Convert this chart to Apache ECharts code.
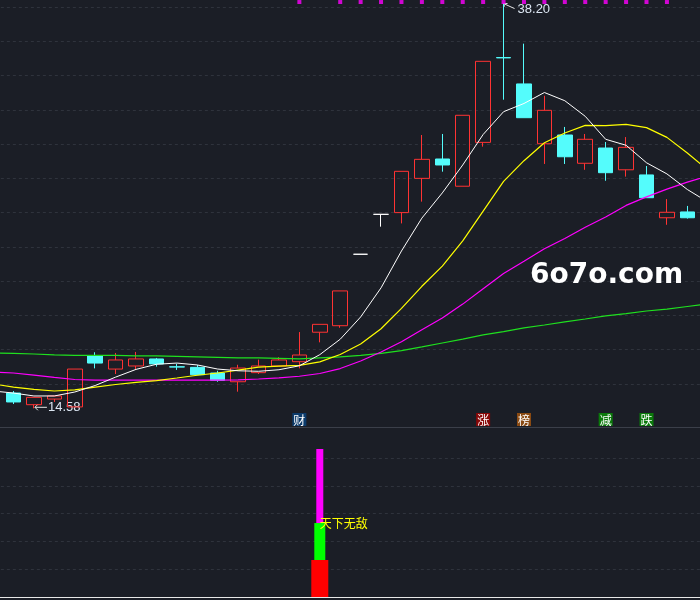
<!DOCTYPE html>
<html><head><meta charset="utf-8">
<script src="https://cdn.jsdelivr.net/npm/echarts@6/dist/echarts.min.js"></script>
<style>html,body{margin:0;padding:0;background:#1b1e26;}#c{width:700px;height:600px;}</style>
</head><body><div id="c"></div>
<script>
// ---- candles (visible days) ----
const opens  = [15.47,14.79,15.12,14.66,17.65,16.87,17.05,17.46,17.00,16.97,16.64,16.13,16.66,17.05,17.30,19.02,19.40,23.57,25.90,26.00,28.00,29.13,27.54,30.10,35.05,33.51,30.02,30.53,28.88,29.77,28.50,28.20,25.70,26.04];
const closes = [14.95,15.22,15.30,16.87,17.22,17.40,17.46,17.17,16.99,16.54,16.21,16.93,17.05,17.40,17.69,19.48,21.43,23.57,25.90,28.41,29.11,28.78,31.68,34.83,35.03,31.54,31.97,29.26,30.28,28.33,29.81,26.87,26.02,25.70];
const lows   = [14.83,14.58,14.95,14.66,16.91,16.58,16.87,17.01,16.82,16.52,16.13,15.55,16.58,17.05,16.91,18.43,19.28,23.57,25.18,25.37,26.64,28.39,27.54,29.85,32.59,31.54,28.84,28.84,28.50,27.86,28.10,26.87,25.29,25.65];
const highs  = [15.59,15.22,15.30,16.87,17.85,17.81,17.87,17.52,17.18,17.11,16.77,17.12,17.42,17.56,19.03,19.48,21.43,23.57,25.90,28.41,30.53,30.59,31.68,34.83,38.20,35.86,32.82,31.00,30.59,30.12,30.41,28.72,26.79,26.39];
// ---- moving averages (one extra point off each edge) ----
const ma5  = [15.59,15.47,15.30,15.30,15.53,15.91,16.40,16.85,17.15,17.22,17.11,16.87,16.77,16.74,16.83,17.06,17.71,18.61,19.91,21.61,23.76,25.68,27.15,28.78,30.56,31.89,32.37,33.01,32.53,31.62,30.28,29.93,28.91,28.26,27.35,26.62];
const ma10 = [16.00,15.82,15.68,15.59,15.65,15.82,15.97,16.09,16.20,16.35,16.51,16.64,16.81,16.98,17.04,17.08,17.29,17.72,18.33,19.22,20.41,21.70,22.88,24.35,26.09,27.82,29.03,30.08,30.65,31.09,31.08,31.15,30.96,30.39,29.48,28.49];
const ma20 = [16.70,16.64,16.52,16.38,16.26,16.23,16.23,16.23,16.23,16.23,16.23,16.23,16.24,16.29,16.35,16.45,16.61,16.90,17.34,17.87,18.46,19.17,19.85,20.66,21.56,22.45,23.16,23.89,24.49,25.15,25.74,26.42,26.92,27.37,27.78,28.14];
const ma60 = [17.81,17.78,17.75,17.70,17.67,17.67,17.67,17.64,17.64,17.61,17.58,17.55,17.52,17.52,17.49,17.46,17.52,17.58,17.67,17.78,17.95,18.16,18.39,18.62,18.86,19.06,19.27,19.44,19.62,19.79,19.97,20.11,20.26,20.37,20.52,20.67];
// ---- price grid ticks ----
const priceTicks = [16,18,20,22,24,26,28,30,32,34,36,38];
const subTicks = [1,2,3,4,5];
// ---- signal markers ----
const signalIdx   = [14,23,25,29,31];
const signalText  = ['财','涨','榜','减','跌'];
const signalStyle = ['b','r','o','g','g'];
const dotIdx = [14,16,17,18,19,20,21,22,23,24,25,26,27,28,29,30,31,32];
const dotValue = 38.29;
// ---- sub indicator ----
const subIdx = 15;
const subRed = 1.33, subGreen = 2.66, subMagenta = 5.32;
const subText = '天下无敌';
const highIdx = 24, highVal = 38.20, lowIdx = 1, lowVal = 14.58;

const BG = '#1b1e26';
const N = opens.length + 2;
const cats = Array.from({length:N}, (_, i) => 'K' + i);
const empty = ['-','-','-','-'];
const kData = [empty].concat(opens.map((o,i)=>[o, closes[i], lows[i], highs[i]]), [empty]);
const blank = Array(N).fill('-');
function one(v){ const a = blank.slice(); a[subIdx+1] = v; return a; }

const chart = echarts.init(document.getElementById('c'));
const GL = -17.13, GW = 735.1;
const hiddenCat = (g) => ({type:'category', gridIndex:g, data:cats, boundaryGap:true, show:false});
const rs = (bg) => ({backgroundColor:bg, color:'#ffffff', fontSize:12, padding:[1,1,0,1], fontFamily:'Noto Sans CJK SC'});
chart.setOption({
  animation:false,
  backgroundColor: BG,
  grid:[{left:GL, width:GW, top:0, height:427, outerBoundsMode:'none', containLabel:false},
        {left:GL, width:GW, top:427, height:170, outerBoundsMode:'none', containLabel:false}],
  xAxis:[
    {type:'category', gridIndex:0, data:cats, boundaryGap:true,
     axisLine:{onZero:false, lineStyle:{color:'#3b3f49', width:1}}, axisTick:{show:false}, splitLine:{show:false},
     axisLabel:{inside:true, interval:0, margin:1,
       formatter:(v,i)=>{ const k = signalIdx.indexOf(i-1); return k<0 ? '' : '{'+signalStyle[k]+'|'+signalText[k]+'}'; },
       rich:{ b:rs('#0c3b6b'), r:rs('#880808'), o:rs('#8a4a12'), g:rs('#0b7a0b') }}},
    {type:'category', gridIndex:1, data:cats, boundaryGap:true,
     axisLine:{onZero:false, lineStyle:{color:'#e8e8e8', width:1}}, axisTick:{show:false}, axisLabel:{show:false}, splitLine:{show:false}},
    hiddenCat(1), hiddenCat(1)
  ],
  yAxis:[
    {type:'value', gridIndex:0, min:13.4887, max:38.4085, show:false, splitLine:{show:false}},
    {type:'value', gridIndex:1, min:0, max:6.115, show:false, splitLine:{show:false}}
  ],
  series:[
    {type:'line', xAxisIndex:0, yAxisIndex:0, data:blank, silent:true, z:0,
     markLine:{z:0, silent:true, symbol:'none', label:{show:false}, lineStyle:{color:'#2f333c', type:[3,3], width:1},
       data: priceTicks.map(v=>({yAxis:v}))}},
    {type:'line', xAxisIndex:1, yAxisIndex:1, data:blank, silent:true, z:0,
     markLine:{z:0, silent:true, symbol:'none', label:{show:false}, lineStyle:{color:'#2f333c', type:[3,3], width:1},
       data: subTicks.map(v=>({yAxis:v}))}},
    {type:'candlestick', xAxisIndex:0, yAxisIndex:0, data:kData, barWidth:15, z:2, silent:true,
     itemStyle:{color:'rgba(0,0,0,0)', color0:'#54fcfc', borderColor:'#ff3333', borderColor0:'#54fcfc', borderColorDoji:'#ffffff', borderWidth:1}},
    {type:'line', data:ma60, showSymbol:false, silent:true, z:3, lineStyle:{color:'#1fe01f', width:1.2}},
    {type:'line', data:ma20, showSymbol:false, silent:true, z:3, lineStyle:{color:'#ff00ff', width:1.2}},
    {type:'line', data:ma10, showSymbol:false, silent:true, z:3, lineStyle:{color:'#ffff00', width:1.2}},
    {type:'line', data:ma5,  showSymbol:false, silent:true, z:3, lineStyle:{color:'#ffffff', width:1}},
    {type:'scatter', data: dotIdx.map(i=>[i+1, dotValue]), symbol:'rect', symbolSize:4, silent:true, z:3, itemStyle:{color:'#ff00ff'}},
    {type:'bar', xAxisIndex:3, yAxisIndex:1, data:one(subMagenta), barWidth:7, silent:true, z:2, itemStyle:{color:'#ff00ff'}},
    {type:'bar', xAxisIndex:2, yAxisIndex:1, data:one(subGreen), barWidth:11, silent:true, z:3, itemStyle:{color:'#00ff00'},
     label:{show:true, position:[5.5,0], align:'left', verticalAlign:'middle', formatter:()=>subText, color:'#ffff00', fontSize:12, fontFamily:'Noto Sans CJK SC'}},
    {type:'bar', xAxisIndex:1, yAxisIndex:1, data:one(subRed), barWidth:17, silent:true, z:4, itemStyle:{color:'#ff0000'}}
  ]
});
const hi = chart.convertToPixel({xAxisIndex:0, yAxisIndex:0}, [highIdx+1, highVal]);
const lo = chart.convertToPixel({xAxisIndex:0, yAxisIndex:0}, [lowIdx+1, lowVal]);
const txtCol = '#dce6f2';
chart.setOption({graphic:[
  {type:'polyline', shape:{points:[[hi[0],hi[1]],[hi[0]+11,hi[1]+5]]}, style:{stroke:'#e6e6e6', lineWidth:1, fill:null}},
  {type:'polyline', shape:{points:[[hi[0]+4,hi[1]],[hi[0],hi[1]],[hi[0]+1,hi[1]+3]]}, style:{stroke:'#e6e6e6', lineWidth:1, fill:null}},
  {type:'text', x:hi[0]+14, y:hi[1]+6, style:{text:highVal.toFixed(2), fill:txtCol, font:'13px "Liberation Sans", Arial', verticalAlign:'middle', align:'left'}},
  {type:'polyline', shape:{points:[[lo[0]+1,lo[1]-1],[lo[0]+13,lo[1]-1]]}, style:{stroke:'#e6e6e6', lineWidth:1, fill:null}},
  {type:'polyline', shape:{points:[[lo[0]+4,lo[1]-4],[lo[0]+1,lo[1]-1],[lo[0]+4,lo[1]+2]]}, style:{stroke:'#e6e6e6', lineWidth:1, fill:null}},
  {type:'text', x:lo[0]+14, y:lo[1]-1, style:{text:lowVal.toFixed(2), fill:txtCol, font:'13px "Liberation Sans", Arial', verticalAlign:'middle', align:'left'}},
  {type:'text', left:530, top:262, style:{text:'6o7o.com', fill:'#ffffff', font:'bold 28px "DejaVu Sans"'}}
]});
</script></body></html>
